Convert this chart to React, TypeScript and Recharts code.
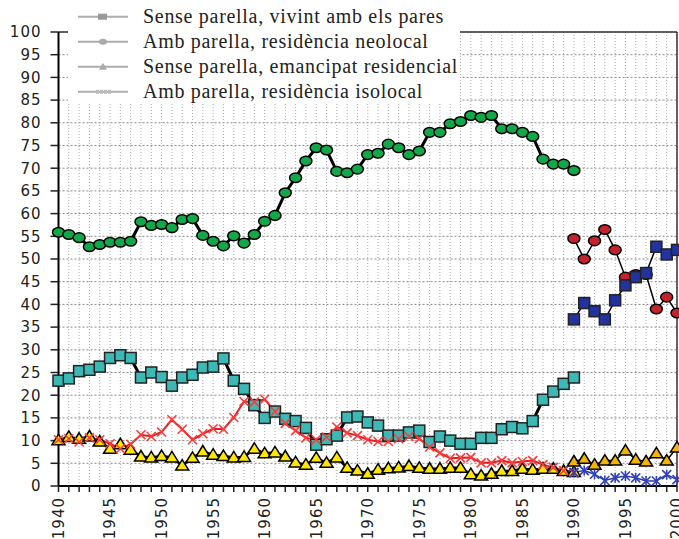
import { LineChart, Line, XAxis, YAxis, CartesianGrid, ReferenceLine } from "recharts";

// years on the axis, 1940..2000
const years = Array.from({ length: 61 }, (_, i) => 1940 + i);
const yTicks = [0, 5, 10, 15, 20, 25, 30, 35, 40, 45, 50, 55, 60, 65, 70, 75, 80, 85, 90, 95, 100];

// first source, 1940-1990
const neolocal = [
  55.9, 55.4, 54.7, 52.7, 53.2, 53.7, 53.7, 53.9, 58.2, 57.4,
  57.6, 56.9, 58.7, 58.9, 55.2, 53.9, 52.9, 55.1, 53.5, 55.4,
  58.3, 59.6, 64.6, 67.9, 71.6, 74.5, 74.0, 69.3, 69.0, 69.8,
  73.0, 73.3, 75.3, 74.5, 73.0, 73.8, 77.9, 77.9, 79.8, 80.3,
  81.6, 81.2, 81.6, 78.7, 78.7, 77.9, 77.0, 72.0, 70.9, 70.9,
  69.5,
];
const parents = [
  23.2, 23.7, 25.3, 25.6, 26.3, 28.2, 28.8, 28.2, 23.9, 25.0,
  24.0, 22.1, 23.9, 24.5, 26.1, 26.3, 28.1, 23.2, 21.4, 17.8,
  15.0, 16.4, 14.8, 14.3, 12.8, 9.1, 10.3, 11.1, 15.1, 15.3,
  14.0, 13.3, 11.1, 11.1, 11.8, 12.2, 9.7, 10.9, 10.0, 9.3,
  9.3, 10.6, 10.6, 12.5, 13.0, 12.7, 14.3, 19.0, 20.8, 22.5,
  23.9,
];
const emancipat = [
  10.1, 10.8, 10.4, 10.9, 9.8, 8.2, 9.2, 8.0, 6.5, 6.3,
  6.6, 6.3, 4.5, 6.2, 7.6, 6.9, 6.6, 6.3, 6.4, 8.2,
  7.2, 7.4, 6.5, 5.2, 4.7, 6.2, 5.1, 6.3, 4.0, 3.4,
  2.7, 3.6, 3.9, 4.1, 4.4, 4.0, 3.8, 3.8, 4.0, 4.0,
  2.6, 2.3, 2.7, 3.3, 3.3, 3.8, 3.6, 3.8, 3.8, 3.3,
  3.1,
];
const isolocal = [
  10.2, 10.4, 9.7, 10.6, 10.2, 9.3, 8.2, 9.2, 11.3, 10.9,
  11.9, 14.6, 12.5, 10.2, 11.5, 12.6, 12.5, 15.1, 18.6, 18.5,
  19.1, 16.4, 13.8, 12.2, 10.6, 10.2, 10.8, 13.0, 11.7, 11.1,
  10.2, 9.8, 9.8, 10.4, 10.9, 10.4, 8.6, 7.3, 6.1, 6.2,
  6.3, 5.1, 5.1, 5.6, 5.1, 5.4, 5.6, 4.7, 4.1, 3.4,
  2.8,
];

// second source, 1990-2000
const neolocal90 = [54.5, 50.0, 54.0, 56.5, 52.0, 46.0, 46.6, 46.6, 39.0, 41.6, 38.1];
const parents90 = [36.7, 40.3, 38.5, 36.7, 40.9, 44.2, 46.0, 46.9, 52.7, 51.0, 52.0];
const emancipat90 = [5.4, 6.0, 4.7, 5.6, 5.6, 7.8, 5.8, 5.4, 7.2, 5.6, 8.5];
const isolocal90 = [3.0, 3.4, 2.6, 1.2, 1.8, 2.2, 1.8, 1.1, 1.1, 2.5, 1.4];

const legendNames = [
  "Sense parella, vivint amb els pares",
  "Amb parella, residència neolocal",
  "Sense parella, emancipat residencial",
  "Amb parella, residència isolocal",
];

const data = years.map((year, i) => ({
  year,
  neolocal: neolocal[i],
  parents: parents[i],
  emancipat: emancipat[i],
  isolocal: isolocal[i],
  neolocal90: i >= 50 ? neolocal90[i - 50] : undefined,
  parents90: i >= 50 ? parents90[i - 50] : undefined,
  emancipat90: i >= 50 ? emancipat90[i - 50] : undefined,
  isolocal90: i >= 50 ? isolocal90[i - 50] : undefined,
}));

const empty = (p: any) => <g key={p.index} />;

const ellipseDot = (fill: string) => (p: any) =>
  p.cy == null ? empty(p) : (
    <ellipse key={p.index} cx={p.cx} cy={p.cy} rx={6} ry={4.8} fill={fill} stroke="#000" strokeWidth={1.5} />
  );

const squareDot = (fill: string) => (p: any) =>
  p.cy == null ? empty(p) : (
    <rect key={p.index} x={p.cx - 5.5} y={p.cy - 5.5} width={11} height={11} fill={fill} stroke="#222" strokeWidth={1.5} />
  );

const triangleDot = (fill: string) => (p: any) =>
  p.cy == null ? empty(p) : (
    <polygon
      key={p.index}
      points={`${p.cx},${p.cy - 6} ${p.cx + 6.5},${p.cy + 4.5} ${p.cx - 6.5},${p.cy + 4.5}`}
      fill={fill}
      stroke="#000"
      strokeWidth={1.5}
    />
  );

const crossDot = (color: string, star: boolean) => (p: any) =>
  p.cy == null ? empty(p) : (
    <g key={p.index} stroke={color} strokeWidth={1.6}>
      <line x1={p.cx - 4.5} y1={p.cy - 4.5} x2={p.cx + 4.5} y2={p.cy + 4.5} />
      <line x1={p.cx - 4.5} y1={p.cy + 4.5} x2={p.cx + 4.5} y2={p.cy - 4.5} />
      {star && <line x1={p.cx} y1={p.cy - 5} x2={p.cx} y2={p.cy + 5} />}
    </g>
  );

const XTick = (props: any) => {
  const { x, y, payload } = props;
  if (payload.value % 5 !== 0) return <g />;
  return (
    <g transform={`translate(${x},${y})`}>
      <text
        transform="rotate(-90)"
        textAnchor="end"
        dy="0.36em"
        fill="#222"
        fontSize={15}
        letterSpacing={1}
        fontFamily="DejaVu Sans"
      >
        {payload.value}
      </text>
    </g>
  );
};

function LegendBox() {
  const markers = [
    <rect x={98} y={-3} width={9} height={6} fill="#999" />,
    <ellipse cx={103} cy={0} rx={4} ry={3} fill="#aaa" />,
    <polygon points="103,-4 107,3 99,3" fill="#aaa" />,
    <line x1={96} y1={0} x2={112} y2={0} stroke="#bbb" strokeWidth={4} strokeDasharray="3 1" />,
  ];
  return (
    <svg
      width={392}
      height={104}
      style={{ position: "absolute", left: 68, top: 0, background: "#fff" }}
    >
      {legendNames.map((name, i) => (
        <g key={name} transform={`translate(0,${16.7 + i * 25})`}>
          <line x1={10} y1={0} x2={60} y2={0} stroke="#999" strokeWidth={2} opacity={0.8} />
          <g transform="translate(-68,0)">{markers[i]}</g>
          <text x={75} y={6} fontSize={20} letterSpacing={0.7} fontFamily="Liberation Serif" fill="#222">
            {name}
          </text>
        </g>
      ))}
    </svg>
  );
}

export default function App() {
  return (
    <div style={{ position: "absolute", left: 0, top: 0, width: 679, height: 539, background: "#fff" }}>
      <LineChart width={679} height={539} data={data} margin={{ top: 32, right: 2, left: 0, bottom: 0 }}>
        <CartesianGrid vertical={false} stroke="#888" strokeDasharray="2 2" />
        <CartesianGrid horizontal={false} stroke="#aaa" strokeDasharray="1 2" />
        <XAxis
          dataKey="year"
          type="number"
          domain={[1940, 2000]}
          ticks={years}
          interval={0}
          height={53}
          tickSize={6}
          tickMargin={5}
          tick={<XTick />}
          axisLine={{ stroke: "#000", strokeWidth: 2 }}
          tickLine={{ stroke: "#222", strokeWidth: 1.5 }}
        />
        <YAxis
          domain={[0, 100]}
          ticks={yTicks}
          interval={0}
          width={58.5}
          tickSize={8}
          tickMargin={9}
          axisLine={{ stroke: "#000", strokeWidth: 2 }}
          tickLine={{ stroke: "#222", strokeWidth: 1.5 }}
          tick={{ fill: "#222", fontSize: 15, fontFamily: "DejaVu Sans", letterSpacing: 1 }}
        />
        <ReferenceLine y={100} stroke="#333" strokeWidth={1.5} />
        <ReferenceLine x={2000} stroke="#333" strokeWidth={1.5} />
        <Line dataKey="parents" stroke="#000" strokeWidth={3} dot={squareDot("#3cb8b5")} isAnimationActive={false} />
        <Line dataKey="neolocal" stroke="#000" strokeWidth={3} dot={ellipseDot("#12a84a")} isAnimationActive={false} />
        <Line dataKey="emancipat" stroke="#000" strokeWidth={2.5} dot={triangleDot("#ffe600")} isAnimationActive={false} />
        <Line dataKey="isolocal" stroke="#e02020" strokeWidth={2} dot={crossDot("#ff3a3a", false)} isAnimationActive={false} />
        <Line dataKey="neolocal90" stroke="#000" strokeWidth={1.5} dot={ellipseDot("#c4222c")} isAnimationActive={false} />
        <Line dataKey="parents90" stroke="#000" strokeWidth={1.5} dot={squareDot("#2233a0")} isAnimationActive={false} />
        <Line dataKey="emancipat90" stroke="#000" strokeWidth={1.5} dot={triangleDot("#f2b400")} isAnimationActive={false} />
        <Line dataKey="isolocal90" stroke="#2a3aa8" strokeWidth={1.5} dot={crossDot("#3040b8", true)} isAnimationActive={false} />
      </LineChart>
      <LegendBox />
    </div>
  );
}
